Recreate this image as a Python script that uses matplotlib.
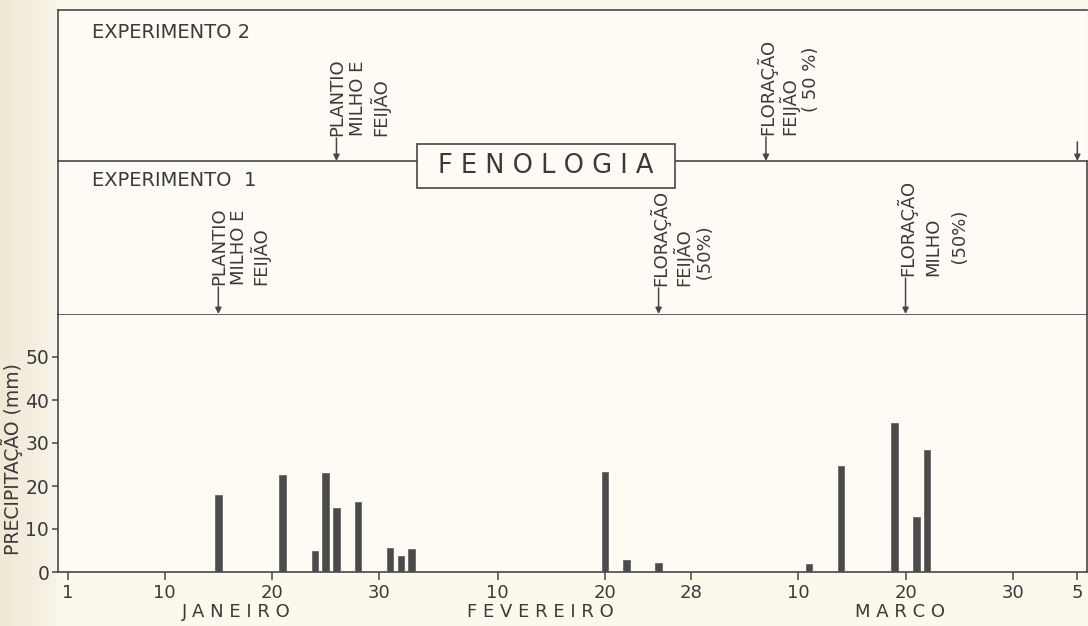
import matplotlib
matplotlib.use("Agg")
import matplotlib.pyplot as plt
import numpy as np
from matplotlib import transforms
from matplotlib.patches import Rectangle
from matplotlib.colors import LinearSegmentedColormap

# ---------------- data ----------------
# day index: 1 = 1 Jan, 32 = 1 Feb, 60 = 1 Mar, 91 = 1 Apr
tick_days = [1, 10, 20, 30, 41, 51, 59, 69, 79, 89, 95]
tick_labels = ["1", "10", "20", "30", "10", "20", "28", "10", "20", "30", "5"]
month_names = ["J A N E I R O", "F E V E R E I R O", "M A R C O"]
month_centers = [16.7, 45.0, 78.5]

rain_days = [15, 21, 24, 25, 26, 28, 31, 32, 33, 51, 53, 56, 70, 73, 78, 80, 81]
rain_mm = [18, 22.5, 5, 23, 15, 16.3, 5.6, 3.7, 5.3, 23.3, 2.8, 2.1, 1.9, 24.6, 34.7, 12.8, 28.4]

y_ticks = [0, 10, 20, 30, 40, 50]

exp1_days = [15, 56, 79]
exp1_labels = [["PLANTIO", "MILHO E", "FEIJÃO"],
               ["FLORAÇÃO", "FEIJÃO", " (50%)"],
               ["FLORAÇÃO", "MILHO", "  (50%)"]]
exp2_days = [26, 66, 95]
exp2_labels = [["PLANTIO", "MILHO E", "FEIJÃO"],
               ["FLORAÇÃO", "FEIJÃO", "    ( 50 %)"],
               []]

# ---------------- style / layout ----------------
BG = "#FBF8EC"
PANEL = "#FDFBF3"
INK = "#3a3a3a"
LINE = "#474747"
BAR = "#4b4b4b"
FONT = "DejaVu Sans"
plt.rcParams["font.family"] = FONT

W_PX, H_PX = 1088, 626
fig = plt.figure(figsize=(W_PX / 100, H_PX / 100), dpi=100, facecolor=BG)

# beige paper strip at the left edge
ax_strip = fig.add_axes([0, 0, 56 / W_PX, 1], zorder=-5)
ax_strip.axis("off")
strip_cmap = LinearSegmentedColormap.from_list("strip", ["#F1E8D6", "#F4EDDF", "#F8F3E8"])
ax_strip.imshow(np.linspace(0, 1, 64)[None, :], aspect="auto", cmap=strip_cmap,
                extent=(0, 1, 0, 1))

left_px, right_px = 57.5, 1087
L = left_px / W_PX
W = (right_px - left_px) / W_PX
XLIM = (0.02, 95.9)

def fy(px):
    return 1 - px / H_PX

ax_bar = fig.add_axes([L, fy(572), W, (572 - 314) / H_PX])
ax_e1 = fig.add_axes([L, fy(314), W, (314 - 161) / H_PX])
ax_e2 = fig.add_axes([L, fy(161), W, (161 - 10) / H_PX])

for ax in (ax_bar, ax_e1, ax_e2):
    ax.set_facecolor(PANEL)
    ax.set_xlim(*XLIM)
    for s in ax.spines.values():
        s.set_color(LINE)
        s.set_linewidth(1.2)

# ---- bar panel ----
ax_bar.bar(rain_days, rain_mm, width=0.62, color=BAR, edgecolor="#5a5a5a", linewidth=0.5, zorder=3)
ax_bar.set_ylim(0, 60)
ax_bar.set_yticks(y_ticks)
ax_bar.set_yticklabels([str(v) for v in y_ticks])
ax_bar.set_xticks(tick_days)
ax_bar.set_xticklabels(tick_labels)
ax_bar.tick_params(axis="x", direction="out", length=6, width=1.1, color=LINE,
                   labelsize=13, labelcolor=INK, pad=3)
ax_bar.tick_params(axis="y", direction="out", length=4, width=1.1, color=LINE,
                   labelsize=13.5, labelcolor=INK, pad=2)
ax_bar.set_ylabel("PRECIPITAÇÃO (mm)", fontsize=13.5, color=INK)
ax_bar.yaxis.set_label_coords((23 - left_px) / (right_px - left_px), (572 - 459) / 258)

tr_month = transforms.blended_transform_factory(ax_bar.transData, fig.transFigure)
for name, c in zip(month_names, month_centers):
    fig.text(c, fy(612), name, transform=tr_month, ha="center", va="center",
             fontsize=13, color=INK)

# ---- phenology panels ----
for ax in (ax_e1, ax_e2):
    ax.set_ylim(0, 1)
    ax.set_xticks([])
    ax.set_yticks([])
ax_e1.spines["top"].set_visible(False)
ax_e1.spines["bottom"].set_visible(False)
ax_e2.spines["right"].set_visible(False)

ax_e2.text((92 - left_px) / (right_px - left_px), (161 - 32) / 151, "EXPERIMENTO 2",
           transform=ax_e2.transAxes, ha="left", va="center", fontsize=14, color=INK)
ax_e1.text((92 - left_px) / (right_px - left_px), (314 - 180) / 153, "EXPERIMENTO  1",
           transform=ax_e1.transAxes, ha="left", va="center", fontsize=14, color=INK)

# arrow tails (axes fraction) and column spacing (px) for each event
exp1_tail = [0.176, 0.170, 0.235]
exp1_col = [20, 23, 27]
exp2_tail = [0.152, 0.159, 0.126]
exp2_col = [21, 22, 22]

def draw_events(ax, days, labels, tails, cols):
    base = transforms.blended_transform_factory(ax.transData, ax.transAxes)
    for d, lines, t, c in zip(days, labels, tails, cols):
        ax.annotate("", xy=(d, 0.0), xytext=(d, t),
                    xycoords=base, textcoords=base,
                    arrowprops=dict(arrowstyle="-|>", color=LINE, lw=1.1,
                                    mutation_scale=9, shrinkA=0, shrinkB=0),
                    annotation_clip=False)
        for i, line in enumerate(lines):
            trn = transforms.offset_copy(base, fig=fig, x=1 + i * c, y=2, units="dots")
            ax.text(d, t, line, transform=trn, rotation=90, rotation_mode="anchor",
                    ha="left", va="center", fontsize=13, color=INK, clip_on=False)

draw_events(ax_e1, exp1_days, exp1_labels, exp1_tail, exp1_col)
draw_events(ax_e2, exp2_days, exp2_labels, exp2_tail, exp2_col)

# FENOLOGIA box over the divider line
bx0, bx1, by0, by1 = 417, 675, 144, 188
fig.patches.append(Rectangle((bx0 / W_PX, fy(by1)), (bx1 - bx0) / W_PX, (by1 - by0) / H_PX,
                             transform=fig.transFigure, facecolor=PANEL, edgecolor=LINE,
                             linewidth=1.2, zorder=5))
fig.text((bx0 + bx1) / 2 / W_PX, fy((by0 + by1) / 2), "F E N O L O G I A",
         ha="center", va="center", fontsize=18.5, color=INK, zorder=6)

fig.savefig("out.png", dpi=100, facecolor=BG)
